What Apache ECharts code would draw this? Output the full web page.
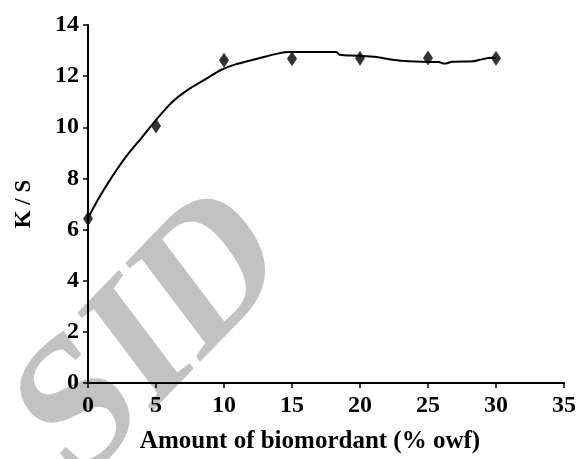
<!DOCTYPE html>
<html>
<head>
<meta charset="utf-8">
<script src="https://cdn.jsdelivr.net/npm/echarts@6/dist/echarts.min.js"></script>
<style>
  html, body { margin: 0; padding: 0; background: #fff; }
  #chart { width: 579px; height: 459px; }
</style>
</head>
<body>
<div id="chart"></div>
<script>
// measured K/S values at each biomordant amount
var amounts = [0, 5, 10, 15, 20, 25, 30];
var ksValues = [6.42, 10.05, 12.62, 12.68, 12.7, 12.71, 12.7];

// fitted trend curve
var trendX = [0, 0.76, 1.74, 2.84, 3.94, 5.04, 6.14, 7.36, 8.58, 9.81, 10.79, 12.38, 14.09, 14.8, 18.25, 18.5, 19.8, 21.2, 22.4, 23.6, 25.8, 26.2, 26.8, 28.3, 28.8, 29.7, 30];
var trendY = [6.45, 7.2, 8.04, 8.88, 9.59, 10.31, 10.96, 11.47, 11.86, 12.25, 12.45, 12.67, 12.9, 12.94, 12.94, 12.84, 12.8, 12.75, 12.64, 12.58, 12.55, 12.49, 12.56, 12.58, 12.64, 12.72, 12.7];

var xTicks = { min: 0, max: 35, interval: 5 };
var yTicks = { min: 0, max: 14, interval: 2 };

(function () {
  var el = document.getElementById("chart");
  var chart = echarts.init(el);

  var font = "'Liberation Serif', 'Times New Roman', serif";
  var black = "#000";

  var scatterData = amounts.map(function (x, i) { return [x, ksValues[i]]; });
  var lineData = trendX.map(function (x, i) { return [x, trendY[i]]; });

  // watermark is rotated text, then stretched vertically as a whole
  var wmStretch = 1.17;

  chart.setOption({
    animation: false,
    backgroundColor: "#fff",
    grid: { left: 88, right: 14, top: 25, bottom: 74 },
    graphic: [
      {
        type: "group",
        z: -10,
        scaleY: wmStretch,
        children: [
          {
            type: "text",
            x: 154,
            y: 340 / wmStretch,
            rotation: 0.724,
            style: {
              text: "SID",
              font: "bold 172px " + font,
              fill: "#c2c2c2",
              align: "center",
              verticalAlign: "middle"
            }
          }
        ]
      }
    ],
    xAxis: {
      type: "value",
      min: xTicks.min,
      max: xTicks.max,
      interval: xTicks.interval,
      name: "Amount of biomordant (% owf)",
      nameLocation: "middle",
      nameGap: 46,
      nameTextStyle: { fontFamily: font, fontWeight: "bold", fontSize: 25, color: black, padding: [0, 32, 0, 0] },
      axisLine: { onZero: false, lineStyle: { color: black, width: 2 } },
      axisTick: { show: true, inside: false, length: 5, lineStyle: { color: black, width: 1.5 } },
      axisLabel: { fontFamily: font, fontWeight: "bold", fontSize: 24, color: black, margin: 11 },
      splitLine: { show: false }
    },
    yAxis: {
      type: "value",
      min: yTicks.min,
      max: yTicks.max,
      interval: yTicks.interval,
      name: "K / S",
      nameLocation: "middle",
      nameGap: 52,
      nameRotate: 90,
      nameTextStyle: { fontFamily: font, fontWeight: "bold", fontSize: 23, color: black },
      axisLine: { show: true, lineStyle: { color: black, width: 2 } },
      axisTick: { show: true, inside: false, length: 5, lineStyle: { color: black, width: 1.5 } },
      axisLabel: { fontFamily: font, fontWeight: "bold", fontSize: 24, color: black, margin: 9 },
      splitLine: { show: false }
    },
    series: [
      {
        type: "line",
        data: lineData,
        smooth: 0.3,
        showSymbol: false,
        lineStyle: { color: black, width: 2 },
        z: 2
      },
      {
        type: "scatter",
        data: scatterData,
        symbol: "diamond",
        symbolSize: [10, 15],
        itemStyle: { color: black },
        z: 3
      }
    ]
  });
})();
</script>
</body>
</html>
